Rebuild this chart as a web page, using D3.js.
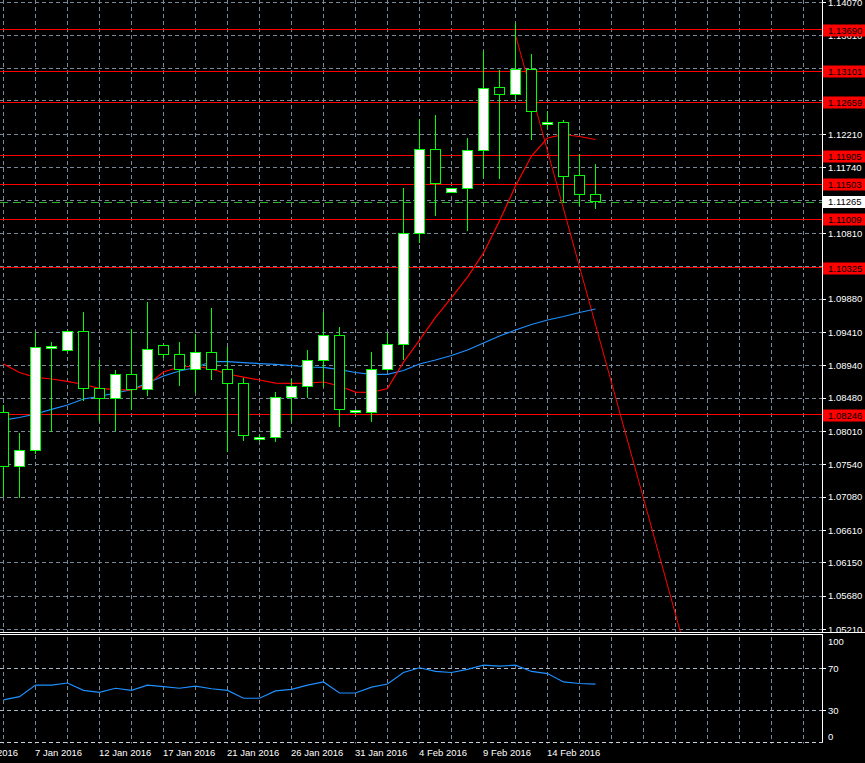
<!DOCTYPE html>
<html><head><meta charset="utf-8">
<script src="https://cdn.jsdelivr.net/npm/d3@7"></script>
<style>html,body{margin:0;padding:0;background:#000;overflow:hidden}svg{display:block}</style>
</head><body><svg id="c" width="865" height="763"></svg>
<script>
// ---- data (EURUSD daily, Jan–Feb 2016) ----
const dates = ["5 Jan","6 Jan","7 Jan","8 Jan","10 Jan","11 Jan","12 Jan","13 Jan","14 Jan","15 Jan","17 Jan","18 Jan","19 Jan","20 Jan","21 Jan","22 Jan","24 Jan","25 Jan","26 Jan","27 Jan","28 Jan","29 Jan","31 Jan","1 Feb","2 Feb","3 Feb","4 Feb","5 Feb","7 Feb","8 Feb","9 Feb","10 Feb","11 Feb","12 Feb","14 Feb","15 Feb","16 Feb","17 Feb"];
const open  = [1.08278,1.07515,1.07741,1.09183,1.09155,1.09421,1.08615,1.08476,1.08815,1.08603,1.09226,1.09098,1.08897,1.09127,1.08897,1.08699,1.07901,1.07925,1.08490,1.08646,1.09013,1.09367,1.08278,1.08278,1.08886,1.09240,1.10809,1.11997,1.11397,1.11445,1.11983,1.12874,1.12775,1.13128,1.12350,1.12379,1.11629,1.11361];
const high  = [1.08381,1.07981,1.09418,1.09268,1.09449,1.09696,1.09018,1.08876,1.09452,1.09838,1.09237,1.09272,1.09381,1.09753,1.09201,1.08759,1.07953,1.08565,1.08745,1.09159,1.09692,1.09484,1.08311,1.09131,1.09399,1.11445,1.12421,1.12482,1.11450,1.12152,1.13387,1.13118,1.13779,1.13344,1.12538,1.12411,1.11926,1.11789];
const low   = [1.07099,1.07085,1.07698,1.08018,1.09152,1.08452,1.08155,1.08028,1.08320,1.08523,1.09064,1.08671,1.08569,1.08753,1.07735,1.07886,1.07886,1.07877,1.08155,1.08499,1.08654,1.08089,1.08272,1.08155,1.08883,1.09028,1.10690,1.11068,1.11393,1.10856,1.11609,1.11595,1.12727,1.12138,1.12294,1.11256,1.11209,1.11171];
const close = [1.07515,1.07741,1.09208,1.09211,1.09421,1.08615,1.08476,1.08815,1.08603,1.09169,1.09098,1.08897,1.09127,1.08897,1.08699,1.07953,1.07925,1.08490,1.08646,1.09013,1.09367,1.08320,1.08306,1.08886,1.09240,1.10809,1.11997,1.11527,1.11445,1.11983,1.12859,1.12775,1.13128,1.12534,1.12379,1.11615,1.11361,1.11265];
const maFast = [1.08961,1.08841,1.08773,1.08749,1.08716,1.08671,1.08617,1.08600,1.08593,1.08671,1.08848,1.08919,1.08933,1.08890,1.08820,1.08777,1.08735,1.08692,1.08688,1.08692,1.08707,1.08650,1.08565,1.08561,1.08615,1.08987,1.09300,1.09619,1.09901,1.10191,1.10531,1.10983,1.11478,1.11902,1.12157,1.12206,1.12178,1.12136];
const maSlow = [1.08169,1.08205,1.08254,1.08320,1.08381,1.08466,1.08504,1.08551,1.08600,1.08692,1.08791,1.08862,1.08912,1.08996,1.08996,1.08982,1.08968,1.08957,1.08940,1.08919,1.08914,1.08883,1.08841,1.08815,1.08815,1.08869,1.08961,1.09018,1.09081,1.09159,1.09258,1.09357,1.09442,1.09520,1.09583,1.09633,1.09689,1.09739];
const osc = [40,43,54,54,56,49,47,51,49,54,52.5,51,53,50.5,49,41.5,41.5,48.5,50,54,57,46.5,46.5,52,55,66,70.5,67,66,69,73,72,73,67,65,57,55.5,55];
const levels = [1.13690,1.13101,1.12659,1.11905,1.11503,1.11009,1.10325,1.08246];
const currentPrice = 1.11265;
const trendIdx = [32, 37];
const trendPrice = [1.13613, 1.09518];
const gridPrices = [1.14070,1.13610,1.13140,1.12680,1.12210,1.11740,1.11270,1.10810,1.10340,1.09880,1.09410,1.08940,1.08480,1.08010,1.07540,1.07080,1.06610,1.06150,1.05680,1.05210];
const hiddenGridLabels = [1.13140,1.12680,1.11270,1.10340];
const timeTickIdx = [-2,2,6,10,14,18,22,26,30,34];
const timeTickLabels = ["3 Jan 2016","7 Jan 2016","12 Jan 2016","17 Jan 2016","21 Jan 2016","26 Jan 2016","31 Jan 2016","4 Feb 2016","9 Feb 2016","14 Feb 2016"];
const oscTicks = [100,70,30,0];

// ---- layout ----
const AXX = 822.5, MAIN_B = 632, SUB_T = 634.5, SUB_B = 742.5;
const FONT = "Liberation Sans, Arial, sans-serif";
const GRID = "#778899";
const svg = d3.select("#c");
svg.append("rect").attr("width",865).attr("height",763).attr("fill","#000");

const x = d3.scaleLinear().domain([0,37]).range([3.5,595.5]);
const y = d3.scaleLinear().domain([1.05172,1.14108]).range([MAIN_B,0]);
const yo = d3.scaleLinear().domain([0,100]).range([741.8,636.8]);
const snap = v => Math.round(v - 0.5) + 0.5;

const defs = svg.append("defs");
defs.append("clipPath").attr("id","cm").append("rect").attr("x",0).attr("y",0).attr("width",AXX).attr("height",MAIN_B);
defs.append("clipPath").attr("id","cs").append("rect").attr("x",0).attr("y",SUB_T).attr("width",AXX).attr("height",SUB_B-SUB_T+1);

const main = svg.append("g").attr("clip-path","url(#cm)").attr("shape-rendering","crispEdges");
const sub = svg.append("g").attr("clip-path","url(#cs)").attr("shape-rendering","crispEdges");

// vertical grid
const vIdx = d3.range(-2, 52, 2).filter(i => x(i) < AXX);
[main, sub].forEach(g => {
  g.selectAll(null).data(vIdx).enter().append("line")
    .attr("x1", d => snap(x(d))).attr("x2", d => snap(x(d)))
    .attr("y1", 0).attr("y2", 763)
    .attr("stroke", GRID).attr("stroke-dasharray","4,3");
});
// horizontal grid main
main.selectAll(null).data(gridPrices).enter().append("line")
  .attr("x1",0).attr("x2",AXX).attr("y1",d=>snap(y(d))).attr("y2",d=>snap(y(d)))
  .attr("stroke",GRID).attr("stroke-dasharray","4,3");
// horizontal grid sub
sub.selectAll(null).data([70,30]).enter().append("line")
  .attr("x1",0).attr("x2",AXX).attr("y1",d=>snap(yo(d))).attr("y2",d=>snap(yo(d)))
  .attr("stroke","#aab4c4").attr("stroke-dasharray","4,3");

// level lines
main.selectAll(null).data(levels).enter().append("line")
  .attr("x1",0).attr("x2",AXX).attr("y1",d=>snap(y(d))).attr("y2",d=>snap(y(d)))
  .attr("stroke","#ff0000");

// current price line
main.append("line").attr("x1",0).attr("x2",AXX)
  .attr("y1",snap(y(currentPrice))+1).attr("y2",snap(y(currentPrice))+1)
  .attr("stroke","#30b030").attr("stroke-width",1.5).attr("stroke-dasharray","8,5");

// trendline ray
const slope = (trendPrice[1]-trendPrice[0])/(trendIdx[1]-trendIdx[0]);
const endIdx = trendIdx[0] + (y.invert(MAIN_B+20) - trendPrice[0]) / slope;
main.append("line")
  .attr("x1",x(trendIdx[0])).attr("y1",y(trendPrice[0]))
  .attr("x2",x(endIdx)).attr("y2",y(trendPrice[0] + slope*(endIdx-trendIdx[0])))
  .attr("stroke","#ff0000").attr("shape-rendering","auto");

// moving averages
const idx = d3.range(dates.length);
main.append("path").datum(idx)
  .attr("d", d3.line().x(i=>x(i)).y(i=>y(maSlow[i])))
  .attr("fill","none").attr("stroke","#1e90ff").attr("stroke-width",1.2).attr("shape-rendering","auto");
main.append("path").datum(idx)
  .attr("d", d3.line().x(i=>x(i)).y(i=>y(maFast[i])))
  .attr("fill","none").attr("stroke","#ff0000").attr("stroke-width",1.2).attr("shape-rendering","auto");

// candles
main.selectAll(null).data(idx).enter().append("line")
  .attr("x1",i=>snap(x(i))).attr("x2",i=>snap(x(i)))
  .attr("y1",i=>Math.round(y(high[i]))).attr("y2",i=>Math.round(y(low[i]))+1)
  .attr("stroke","#00ff00");
main.selectAll(null).data(idx).enter().append("rect")
  .attr("x",i=>snap(x(i))-5).attr("width",10)
  .attr("y",i=>Math.round(y(Math.max(open[i],close[i])))+0.5)
  .attr("height",i=>Math.max(2, Math.round(y(Math.min(open[i],close[i])))-Math.round(y(Math.max(open[i],close[i])))))
  .attr("fill",i=>close[i]>=open[i]?"#ffffff":"#000000")
  .attr("stroke","#00ff00");

// oscillator line
sub.append("path").datum(idx)
  .attr("d", d3.line().x(i=>x(i)).y(i=>yo(osc[i])))
  .attr("fill","none").attr("stroke","#1e90ff").attr("stroke-width",1.2).attr("shape-rendering","auto");

// frames
const fr = svg.append("g").attr("shape-rendering","crispEdges");
fr.append("line").attr("x1",AXX).attr("x2",AXX).attr("y1",0).attr("y2",MAIN_B).attr("stroke","#fff");
fr.append("line").attr("x1",0).attr("x2",865).attr("y1",MAIN_B+0.5).attr("y2",MAIN_B+0.5).attr("stroke","#fff");
fr.append("line").attr("x1",0).attr("x2",AXX).attr("y1",SUB_T).attr("y2",SUB_T).attr("stroke","#fff");
fr.append("line").attr("x1",AXX).attr("x2",AXX).attr("y1",SUB_T).attr("y2",SUB_B).attr("stroke","#fff");
fr.append("line").attr("x1",0).attr("x2",AXX).attr("y1",SUB_B).attr("y2",SUB_B).attr("stroke","#c8d0dc").attr("stroke-dasharray","4,3");

// price axis ticks and labels
const axg = svg.append("g").attr("font-family",FONT).attr("font-size","9.5px");
const shownGrid = gridPrices.filter(p => !hiddenGridLabels.includes(p));
fr.selectAll(null).data(gridPrices).enter().append("line")
  .attr("x1",AXX).attr("x2",AXX+3).attr("y1",d=>snap(y(d))).attr("y2",d=>snap(y(d))).attr("stroke","#fff");
axg.selectAll(null).data(shownGrid).enter().append("text")
  .attr("x",828).attr("y",d=>y(d)).attr("dy","0.35em").attr("fill","#fff")
  .text(d=>d.toFixed(5));
// level labels
levels.forEach(p => {
  const yy = Math.round(y(p));
  axg.append("rect").attr("x",823).attr("y",yy-5.5).attr("width",42).attr("height",12).attr("fill","#ff0000");
  axg.append("text").attr("x",828).attr("y",yy+0.5).attr("dy","0.35em").attr("fill","#000").text(p.toFixed(5));
});
{
  const yy = Math.round(y(currentPrice));
  axg.append("rect").attr("x",823).attr("y",yy-5).attr("width",42).attr("height",12).attr("fill","#fff");
  axg.append("text").attr("x",828).attr("y",yy+1).attr("dy","0.35em").attr("fill","#000").text(currentPrice.toFixed(5));
}
// oscillator labels
axg.selectAll(null).data(oscTicks).enter().append("text")
  .attr("x",828).attr("y",d=>Math.min(736.7, Math.max(641.7, yo(d)))).attr("dy","0.35em").attr("fill","#fff")
  .text(d=>d);
fr.selectAll(null).data(oscTicks.slice(1,3)).enter().append("line")
  .attr("x1",AXX).attr("x2",AXX+3).attr("y1",d=>snap(yo(d))).attr("y2",d=>snap(yo(d))).attr("stroke","#fff");

// time labels
axg.selectAll(null).data(timeTickIdx).enter().append("text")
  .attr("x",(d)=>x(d)-0.5).attr("y",756).attr("fill","#fff")
  .text((d,k)=>timeTickLabels[k]);
</script></body></html>
